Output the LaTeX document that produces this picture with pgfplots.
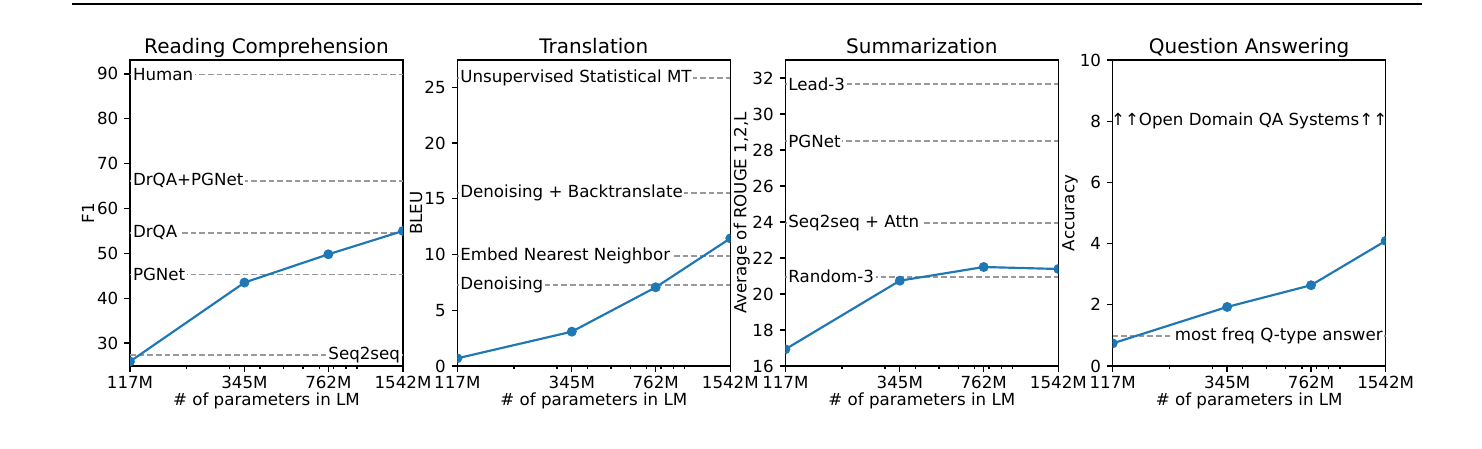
\documentclass[border=0pt]{standalone}
\usepackage{fontspec}
\setmainfont{DejaVu Sans}
\usepackage{pgfplots}
\pgfplotsset{compat=1.18}
\definecolor{mplblue}{HTML}{1F77B4}
\tikzset{
  myref/.style={gray!80, line width=1pt, dash pattern=on 3.4pt off 1.8pt},
  mydat/.style={mplblue, line width=1.3pt, mark=*, mark size=2.3pt, mark options={solid}},
  mylab/.style={fill=white, inner xsep=1pt, inner ysep=1pt, font=\fontsize{10}{12}\selectfont}
}
\newcommand{\ften}{\fontsize{10}{12}\selectfont}
\newcommand{\ftwelve}{\fontsize{12}{14}\selectfont}
\begin{document}
\begin{tikzpicture}
\useasboundingbox (0,0) rectangle (889.2pt,268.8pt);
\draw[line width=1.2pt] (43.2pt,266.4pt) -- (853.2pt,266.4pt);

% Panel 1
\begin{axis}[scale only axis, width=163.8pt, height=183.6pt, anchor=south west,
    xmode=log, xmin=117, xmax=1542,
    xtick={117,345,762,1542}, xticklabels={117M,345M,762M,1542M},
    minor xtick={200,300,400,500,600,700,800,900,1000},
    tick align=outside, xtick pos=bottom, ytick pos=left,
    major tick length=3.5pt, minor tick length=2pt,
    axis line style={line width=0.8pt},
    tick style={black, line width=0.8pt},
    tick label style={font=\ften},
    xticklabel style={yshift=1pt},
    xlabel style={font=\ften, at={(axis description cs:0.5,0)}, anchor=base, yshift=-23.7pt},
    title style={font=\ftwelve, at={(axis description cs:0.5,1)}, anchor=base, yshift=-2pt},
    xlabel={\# of parameters in LM},
    yticklabel style={/pgf/number format/assume math mode=true},
    clip marker paths=true,
  at={(78pt,49.2pt)}, title={Reading Comprehension}, ylabel={F1},
  ylabel style={font=\ften, at={(axis description cs:-0.154,0.5)}, anchor=center},
  ymin=24.9, ymax=93.1, ytick={30,40,50,60,70,80,90}]
\addplot[myref, forget plot] coordinates {(117,89.9) (1542,89.9)};
\addplot[myref, forget plot] coordinates {(117,66.2) (1542,66.2)};
\addplot[myref, forget plot] coordinates {(117,54.6) (1542,54.6)};
\addplot[myref, forget plot] coordinates {(117,45.3) (1542,45.3)};
\addplot[myref, forget plot] coordinates {(117,27.4) (1542,27.4)};
\node[mylab, anchor=west, xshift=0.6pt] at (axis cs:117,89.9) {Human};
\node[mylab, anchor=west, xshift=0.6pt] at (axis cs:117,66.2) {DrQA+PGNet};
\node[mylab, anchor=west, xshift=0.6pt] at (axis cs:117,54.6) {DrQA};
\node[mylab, anchor=west, xshift=0.6pt] at (axis cs:117,45.3) {PGNet};
\node[mylab, anchor=east, xshift=-0.6pt] at (axis cs:1542,27.4) {Seq2seq};
\addplot[mydat] coordinates {(117,25.9) (345,43.5) (762,49.8) (1542,55.0)};
\end{axis}

% Panel 2
\begin{axis}[scale only axis, width=163.8pt, height=183.6pt, anchor=south west,
    xmode=log, xmin=117, xmax=1542,
    xtick={117,345,762,1542}, xticklabels={117M,345M,762M,1542M},
    minor xtick={200,300,400,500,600,700,800,900,1000},
    tick align=outside, xtick pos=bottom, ytick pos=left,
    major tick length=3.5pt, minor tick length=2pt,
    axis line style={line width=0.8pt},
    tick style={black, line width=0.8pt},
    tick label style={font=\ften},
    xticklabel style={yshift=1pt},
    xlabel style={font=\ften, at={(axis description cs:0.5,0)}, anchor=base, yshift=-23.7pt},
    title style={font=\ftwelve, at={(axis description cs:0.5,1)}, anchor=base, yshift=-2pt},
    xlabel={\# of parameters in LM},
    yticklabel style={/pgf/number format/assume math mode=true},
    clip marker paths=true,
  at={(274.4pt,49.2pt)}, title={Translation}, ylabel={BLEU},
  ylabel style={font=\ften, at={(axis description cs:-0.151,0.5)}, anchor=center},
  ymin=0, ymax=27.45, ytick={0,5,10,15,20,25}]
\addplot[myref, forget plot] coordinates {(117,25.83) (1542,25.83)};
\addplot[myref, forget plot] coordinates {(117,15.49) (1542,15.49)};
\addplot[myref, forget plot] coordinates {(117,9.89) (1542,9.89)};
\addplot[myref, forget plot] coordinates {(117,7.24) (1542,7.24)};
\node[mylab, anchor=west, xshift=0.6pt] at (axis cs:117,25.83) {Unsupervised Statistical MT};
\node[mylab, anchor=west, xshift=0.6pt] at (axis cs:117,15.49) {Denoising + Backtranslate};
\node[mylab, anchor=west, xshift=0.6pt] at (axis cs:117,9.89) {Embed Nearest Neighbor};
\node[mylab, anchor=west, xshift=0.6pt] at (axis cs:117,7.24) {Denoising};
\addplot[mydat] coordinates {(117,0.69) (345,3.08) (762,7.06) (1542,11.45)};
\end{axis}

% Panel 3
\begin{axis}[scale only axis, width=163.8pt, height=183.6pt, anchor=south west,
    xmode=log, xmin=117, xmax=1542,
    xtick={117,345,762,1542}, xticklabels={117M,345M,762M,1542M},
    minor xtick={200,300,400,500,600,700,800,900,1000},
    tick align=outside, xtick pos=bottom, ytick pos=left,
    major tick length=3.5pt, minor tick length=2pt,
    axis line style={line width=0.8pt},
    tick style={black, line width=0.8pt},
    tick label style={font=\ften},
    xticklabel style={yshift=1pt},
    xlabel style={font=\ften, at={(axis description cs:0.5,0)}, anchor=base, yshift=-23.7pt},
    title style={font=\ftwelve, at={(axis description cs:0.5,1)}, anchor=base, yshift=-2pt},
    xlabel={\# of parameters in LM},
    yticklabel style={/pgf/number format/assume math mode=true},
    clip marker paths=true,
  at={(471.2pt,49.2pt)}, title={Summarization}, ylabel={Average of ROUGE 1,2,L},
  ylabel style={font=\ften, at={(axis description cs:-0.16,0.5)}, anchor=center},
  ymin=16, ymax=33, ytick={16,18,20,22,24,26,28,30,32}]
\addplot[myref, forget plot] coordinates {(117,31.65) (1542,31.65)};
\addplot[myref, forget plot] coordinates {(117,28.5) (1542,28.5)};
\addplot[myref, forget plot] coordinates {(117,23.96) (1542,23.96)};
\addplot[myref, forget plot] coordinates {(117,20.96) (1542,20.96)};
\node[mylab, anchor=west, xshift=0.6pt] at (axis cs:117,31.65) {Lead-3};
\node[mylab, anchor=west, xshift=0.6pt] at (axis cs:117,28.5) {PGNet};
\node[mylab, anchor=west, xshift=0.6pt] at (axis cs:117,23.96) {Seq2seq + Attn};
\node[mylab, anchor=west, xshift=0.6pt] at (axis cs:117,20.96) {Random-3};
\addplot[mydat] coordinates {(117,16.93) (345,20.74) (762,21.5) (1542,21.39)};
\end{axis}

% Panel 4
\begin{axis}[scale only axis, width=163.8pt, height=183.6pt, anchor=south west,
    xmode=log, xmin=117, xmax=1542,
    xtick={117,345,762,1542}, xticklabels={117M,345M,762M,1542M},
    minor xtick={200,300,400,500,600,700,800,900,1000},
    tick align=outside, xtick pos=bottom, ytick pos=left,
    major tick length=3.5pt, minor tick length=2pt,
    axis line style={line width=0.8pt},
    tick style={black, line width=0.8pt},
    tick label style={font=\ften},
    xticklabel style={yshift=1pt},
    xlabel style={font=\ften, at={(axis description cs:0.5,0)}, anchor=base, yshift=-23.7pt},
    title style={font=\ftwelve, at={(axis description cs:0.5,1)}, anchor=base, yshift=-2pt},
    xlabel={\# of parameters in LM},
    yticklabel style={/pgf/number format/assume math mode=true},
    clip marker paths=true,
  at={(667.6pt,49.2pt)}, title={Question Answering}, ylabel={Accuracy},
  ylabel style={font=\ften, at={(axis description cs:-0.156,0.5)}, anchor=center},
  ymin=0, ymax=10, ytick={0,2,4,6,8,10}]
\addplot[myref, forget plot] coordinates {(117,0.98) (1542,0.98)};
\node[mylab, anchor=east, xshift=-0.6pt] at (axis cs:1542,0.98) {most freq Q-type answer};
\node[font=\ften, inner sep=0pt] at (axis cs:424.8,8) {↑↑Open Domain QA Systems↑↑};
\addplot[mydat] coordinates {(117,0.74) (345,1.93) (762,2.64) (1542,4.09)};
\end{axis}
\end{tikzpicture}
\end{document}
